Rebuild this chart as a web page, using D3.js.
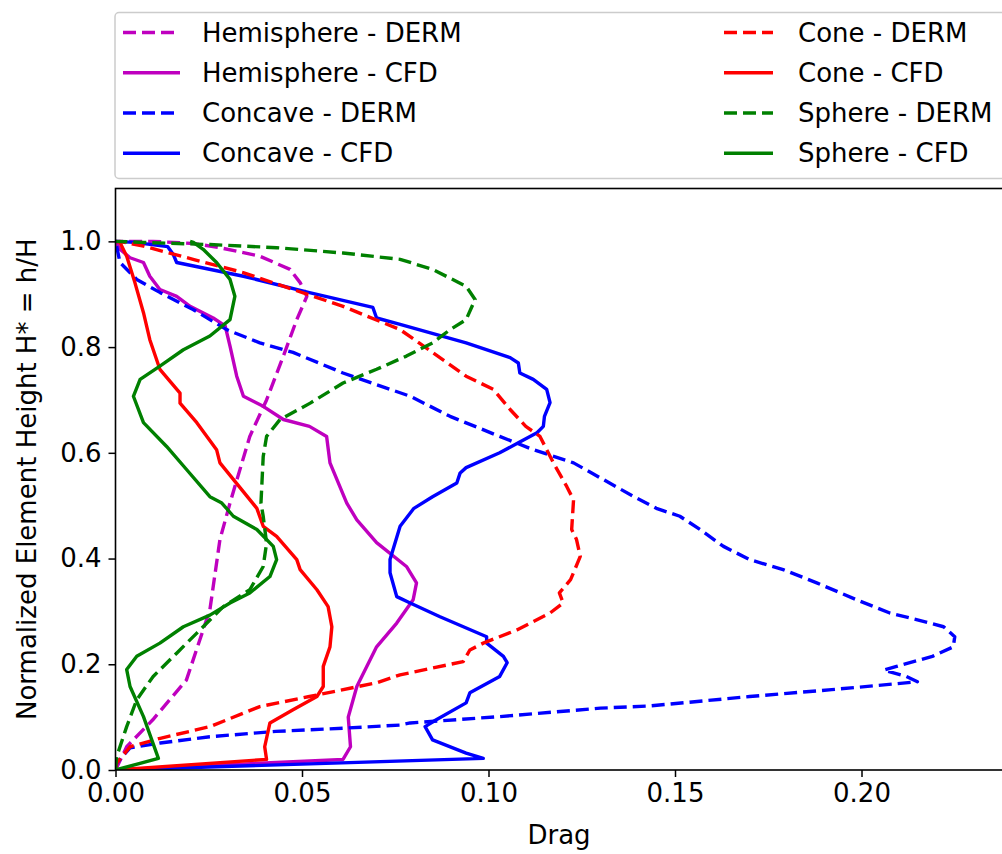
<!DOCTYPE html>
<html>
<head>
<meta charset="utf-8">
<script src="https://cdn.jsdelivr.net/npm/d3@7"></script>
<style>
    body { margin: 0; background: #fff; }
    svg { display: block; }
    text { font-family: "DejaVu Sans", sans-serif; fill: #000; }
</style>
</head>
<body>
<div id="chart"></div>
<script>
// [drag, h/H] pairs, in the order the lines are traced
var hemisphereDerm = [[0,0],[0.003,0.044],[0.010,0.095],[0.019,0.170],[0.0253,0.303],[0.028,0.436],[0.0307,0.505],[0.036,0.631],[0.0405,0.700],[0.045,0.783],[0.0486,0.852],[0.0513,0.896],[0.0495,0.922],[0.0468,0.947],[0.0387,0.972],[0.028,0.988],[0.021,0.996],[0.010,1.0],[0,1.0]];
var hemisphereCfd = [[0,0],[0.061,0.020],[0.063,0.044],[0.0624,0.100],[0.0647,0.158],[0.070,0.233],[0.0754,0.278],[0.0798,0.322],[0.0807,0.354],[0.078,0.385],[0.070,0.430],[0.0647,0.473],[0.062,0.505],[0.0575,0.581],[0.0566,0.631],[0.052,0.650],[0.045,0.663],[0.0396,0.688],[0.0343,0.707],[0.0325,0.745],[0.0307,0.802],[0.0294,0.840],[0.0262,0.855],[0.020,0.877],[0.0164,0.896],[0.0119,0.909],[0.0092,0.934],[0.0075,0.960],[0.0039,0.969],[0.0012,0.985],[0,1.0]];
var concaveDerm = [[0,0],[0.0003,0.013],[0.0039,0.042],[0.012,0.051],[0.0253,0.063],[0.043,0.073],[0.061,0.079],[0.0763,0.085],[0.079,0.089],[0.103,0.101],[0.130,0.117],[0.143,0.121],[0.170,0.139],[0.192,0.152],[0.206,0.161],[0.215,0.167],[0.212,0.177],[0.206,0.189],[0.2094,0.196],[0.219,0.215],[0.2246,0.233],[0.225,0.252],[0.222,0.271],[0.215,0.284],[0.2076,0.297],[0.1987,0.322],[0.188,0.354],[0.179,0.379],[0.170,0.398],[0.163,0.423],[0.1567,0.455],[0.1513,0.480],[0.145,0.495],[0.139,0.517],[0.1228,0.581],[0.112,0.606],[0.103,0.631],[0.0897,0.669],[0.079,0.707],[0.061,0.751],[0.0476,0.790],[0.0387,0.808],[0.0298,0.833],[0.0208,0.871],[0.012,0.903],[0.0057,0.928],[0.0012,0.960],[0.0003,0.991],[0,1.0]];
var concaveCfd = [[0,0],[0.0986,0.022],[0.094,0.032],[0.085,0.057],[0.083,0.082],[0.086,0.095],[0.094,0.127],[0.095,0.146],[0.103,0.177],[0.105,0.203],[0.104,0.215],[0.0995,0.240],[0.0995,0.252],[0.087,0.290],[0.079,0.316],[0.0754,0.328],[0.0736,0.373],[0.0736,0.398],[0.0763,0.461],[0.080,0.495],[0.085,0.517],[0.0915,0.543],[0.0924,0.562],[0.094,0.572],[0.103,0.600],[0.108,0.619],[0.113,0.638],[0.1147,0.650],[0.115,0.669],[0.1165,0.695],[0.1156,0.720],[0.112,0.739],[0.1084,0.751],[0.108,0.770],[0.1058,0.780],[0.094,0.808],[0.0763,0.843],[0.070,0.855],[0.069,0.875],[0.052,0.903],[0.0343,0.934],[0.0164,0.960],[0.0155,0.975],[0.014,0.990],[0.005,0.998],[0,1.0]];
var coneDerm = [[0,0],[0.0003,0.013],[0.0039,0.044],[0.012,0.060],[0.0253,0.082],[0.0387,0.120],[0.052,0.139],[0.070,0.165],[0.0763,0.180],[0.0932,0.205],[0.095,0.227],[0.0986,0.240],[0.1076,0.265],[0.1165,0.297],[0.120,0.316],[0.119,0.335],[0.122,0.360],[0.1246,0.404],[0.1236,0.436],[0.1223,0.455],[0.1228,0.511],[0.121,0.536],[0.1174,0.581],[0.1138,0.631],[0.110,0.650],[0.1058,0.682],[0.1013,0.720],[0.094,0.745],[0.085,0.790],[0.0763,0.833],[0.061,0.877],[0.0476,0.909],[0.0342,0.941],[0.0208,0.966],[0.0075,0.991],[0.001,1.0]];
var coneCfd = [[0,0],[0.0405,0.020],[0.040,0.044],[0.0414,0.089],[0.0476,0.114],[0.054,0.139],[0.0557,0.158],[0.0557,0.196],[0.0575,0.233],[0.058,0.271],[0.057,0.309],[0.054,0.341],[0.0495,0.379],[0.0486,0.398],[0.0432,0.442],[0.0396,0.461],[0.0379,0.495],[0.028,0.581],[0.0271,0.606],[0.0218,0.657],[0.0173,0.694],[0.0173,0.713],[0.0119,0.758],[0.0092,0.814],[0.0075,0.865],[0.0052,0.922],[0.003,0.972],[0.0012,0.998],[0,1.0]];
var sphereDerm = [[0,0],[0.0003,0.025],[0.003,0.082],[0.0057,0.133],[0.0101,0.177],[0.0164,0.221],[0.0218,0.259],[0.0289,0.309],[0.036,0.341],[0.0396,0.385],[0.0405,0.429],[0.0396,0.480],[0.039,0.505],[0.0396,0.593],[0.0405,0.631],[0.0441,0.663],[0.0522,0.694],[0.061,0.732],[0.070,0.758],[0.078,0.783],[0.085,0.808],[0.0897,0.833],[0.094,0.852],[0.0964,0.890],[0.094,0.915],[0.085,0.947],[0.0763,0.966],[0.061,0.978],[0.0432,0.988],[0.0253,0.994],[0.0075,0.998],[0,1.0]];
var sphereCfd = [[0,0],[0.0115,0.022],[0.0075,0.101],[0.0039,0.158],[0.003,0.190],[0.0057,0.215],[0.0119,0.240],[0.0182,0.271],[0.0253,0.293],[0.0307,0.316],[0.036,0.335],[0.0414,0.366],[0.0432,0.398],[0.0423,0.423],[0.0379,0.455],[0.0316,0.480],[0.0285,0.505],[0.0253,0.517],[0.0191,0.568],[0.0137,0.612],[0.0075,0.657],[0.0048,0.707],[0.0066,0.739],[0.0119,0.764],[0.0182,0.795],[0.0253,0.821],[0.0307,0.852],[0.032,0.896],[0.0307,0.928],[0.0271,0.960],[0.0235,0.985],[0.0209,0.998],[0.020,1.0]];

var seriesNames = ["Hemisphere - DERM", "Hemisphere - CFD", "Concave - DERM", "Concave - CFD",
                   "Cone - DERM", "Cone - CFD", "Sphere - DERM", "Sphere - CFD"];
var seriesData = [hemisphereDerm, hemisphereCfd, concaveDerm, concaveCfd, coneDerm, coneCfd, sphereDerm, sphereCfd];
var xTicks = [0, 0.05, 0.10, 0.15, 0.20];
var yTicks = [0, 0.2, 0.4, 0.6, 0.8, 1.0];

var colors = ["#bf00bf", "#bf00bf", "#0000ff", "#0000ff", "#ff0000", "#ff0000", "#008000", "#008000"];
var dashed = [true, false, true, false, true, false, true, false];

var W = 1002, H = 854;
var margin = {top: 188.5, left: 115.5, bottom: 770};

var svg = d3.select("#chart")
    .append("svg")
    .attr("width", W)
    .attr("height", H);

var x = d3.scaleLinear().domain([0, 0.2378]).range([margin.left, 1002.5]);
var y = d3.scaleLinear().domain([0, 1.1]).range([margin.bottom, margin.top]);

svg.append("clipPath").attr("id", "plotClip")
    .append("rect")
    .attr("x", margin.left).attr("y", margin.top)
    .attr("width", 1002.5 - margin.left).attr("height", margin.bottom - margin.top);

var line = d3.line()
    .x(function(d) { return x(d[0]); })
    .y(function(d) { return y(d[1]); });

var plot = svg.append("g").attr("clip-path", "url(#plotClip)");
seriesData.forEach(function(data, i) {
    plot.append("path")
        .datum(data)
        .attr("d", line)
        .attr("fill", "none")
        .attr("stroke", colors[i])
        .attr("stroke-width", 3.4)
        .attr("stroke-linejoin", "round")
        .attr("stroke-dasharray", dashed[i] ? "13,6" : null);
});

// axes
var xAxis = d3.axisBottom(x).tickValues(xTicks).tickFormat(d3.format(".2f")).tickSize(7).tickPadding(7).tickSizeOuter(0);
var yAxis = d3.axisLeft(y).tickValues(yTicks).tickFormat(d3.format(".1f")).tickSize(7).tickPadding(7).tickSizeOuter(0);

var gx = svg.append("g").attr("transform", "translate(0," + margin.bottom + ")").call(xAxis);
var gy = svg.append("g").attr("transform", "translate(" + margin.left + ",0)").call(yAxis);
[gx, gy].forEach(function(g) {
    g.select(".domain").remove();
    g.selectAll(".tick line").attr("stroke", "#000").attr("stroke-width", 1.5);
    g.selectAll(".tick text").style("font-size", "26px").attr("fill", "#000");
});

// frame
svg.append("rect")
    .attr("x", margin.left).attr("y", margin.top)
    .attr("width", 1003.5 - margin.left).attr("height", margin.bottom - margin.top)
    .attr("fill", "none").attr("stroke", "#000").attr("stroke-width", 1.6);

svg.append("text")
    .attr("x", (margin.left + 1002.5) / 2)
    .attr("y", 844)
    .attr("text-anchor", "middle")
    .style("font-size", "26px")
    .text("Drag");

svg.append("text")
    .attr("transform", "translate(36," + ((margin.top + margin.bottom) / 2) + ") rotate(-90)")
    .attr("text-anchor", "middle")
    .style("font-size", "26px")
    .text("Normalized Element Height H* = h/H");

// legend
var legend = svg.append("g");
legend.append("rect")
    .attr("x", 115).attr("y", 12.5)
    .attr("width", 920).attr("height", 166)
    .attr("rx", 4)
    .attr("fill", "#fff").attr("fill-opacity", 0.8)
    .attr("stroke", "#cccccc").attr("stroke-width", 1.5);

var rowY = [32.5, 72.8, 113, 153.3];
var colX = [{line0: 123, line1: 180, text: 202}, {line0: 724, line1: 773, text: 798}];

seriesNames.forEach(function(name, i) {
    var col = colX[Math.floor(i / 4)], ry = rowY[i % 4];
    legend.append("line")
        .attr("x1", col.line0).attr("x2", col.line1)
        .attr("y1", ry).attr("y2", ry)
        .attr("stroke", colors[i])
        .attr("stroke-width", 3.4)
        .attr("stroke-dasharray", dashed[i] ? "13,6" : null);
    legend.append("text")
        .attr("x", col.text).attr("y", ry)
        .attr("dy", "0.35em")
        .style("font-size", "26px")
        .text(name);
});
</script>
</body>
</html>
